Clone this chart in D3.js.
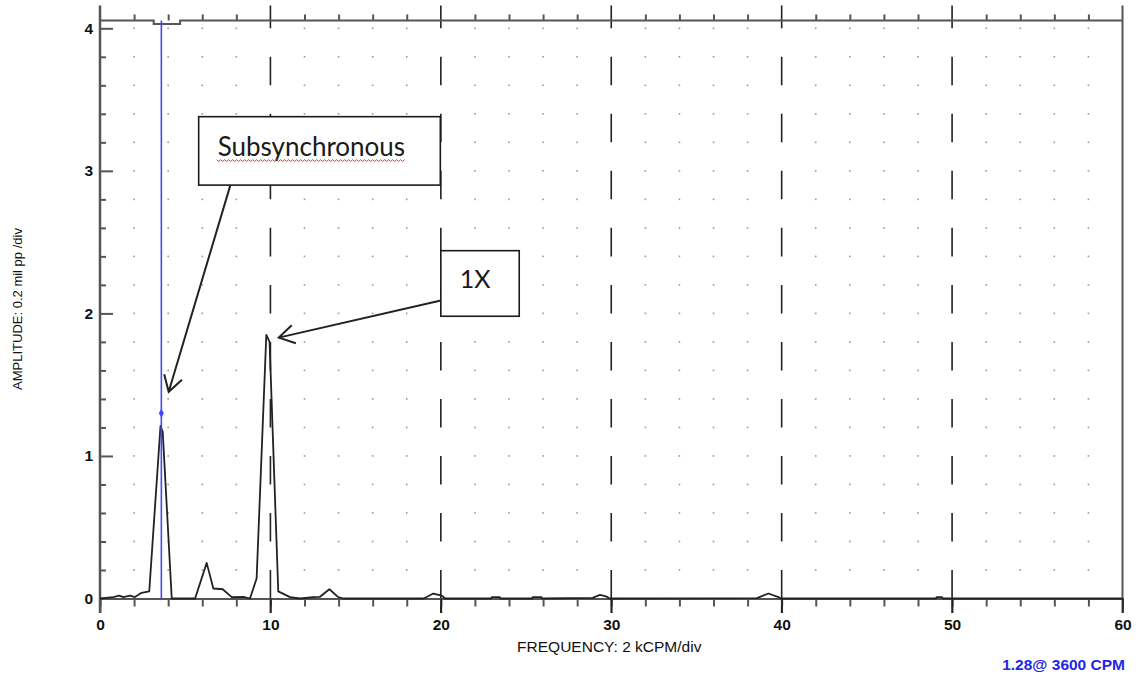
<!DOCTYPE html>
<html><head><meta charset="utf-8">
<script src="https://cdn.jsdelivr.net/npm/d3@7"></script>
<style>body{margin:0;background:#fff;} svg{display:block;}</style>
</head><body><svg id="c" width="1136" height="676"></svg>
<script>
// ---- data (frequency in kCPM, amplitude in divisions of label units) ----
const freq = [0, 0.78, 1.13, 1.37, 1.76, 2.05, 2.44, 2.89, 3.55, 3.68, 4.21, 5.58, 6.26, 6.65, 7.2, 7.73, 8.41, 8.8, 9.19, 9.76, 9.95, 10.46, 11.15, 11.74, 12.52, 12.91, 13.46, 13.98, 14.28,
  19.0, 19.56, 20.05, 20.25, 22.95, 23.0, 23.45, 23.5, 25.35, 25.4, 25.9, 25.95, 28.9, 29.34, 29.74, 29.9, 38.55, 39.22, 39.81, 39.95, 49.05, 49.1, 49.4, 49.45, 60];
const amp  = [0, 0.01, 0.02, 0.01, 0.02, 0.01, 0.04, 0.05, 1.21, 1.17, 0, 0, 0.25, 0.07, 0.065, 0.01, 0.012, 0, 0.14, 1.85, 1.80, 0.05, 0.01, 0, 0.01, 0.012, 0.065, 0.01, 0,
  0, 0.035, 0.02, 0, 0, 0.01, 0.01, 0, 0, 0.01, 0.01, 0, 0.005, 0.025, 0.013, 0, 0.003, 0.035, 0.01, 0, 0, 0.01, 0.01, 0, 0];
const xTicks = [0, 10, 20, 30, 40, 50, 60];
const xMinorTicks = d3.range(0, 61, 2);
const yTicks = [0, 1, 2, 3, 4];
const yMinorTicks = d3.range(0, 21).map(i => +(i * 0.2).toFixed(1));
const cursorFreq = 3.6, cursorAmp = 1.30;
const cursorLabel = "1.28@ 3600 CPM";
const xTitle = "FREQUENCY: 2 kCPM/div";
const yTitle = "AMPLITUDE: 0.2 mil pp /div";
const notes = [
  {text: "Subsynchronous", x0: 5.79, y0: 3.38, x1: 19.97, y1: 2.90, fromX: 7.65, fromY: 2.90, toX: 4.03, toY: 1.45, spell: true},
  {text: "1X", x0: 20.0, y0: 2.44, x1: 24.6, y1: 1.98, fromX: 20.0, fromY: 2.09, toX: 10.49, toY: 1.83, spell: false}
];

// ---- layout ----
const svg = d3.select("#c");
const x = d3.scaleLinear().domain([0, 60]).range([100, 1122.5]);
const y = d3.scaleLinear().domain([0, 4]).range([598.5, 28.3]);
const frameTop = y(4.055);
const axisCol = "#555";

// grid dots
const dots = [];
xMinorTicks.filter(v => v % 10 !== 0).forEach(fx => yMinorTicks.filter(v => v > 0).forEach(fy => dots.push([fx, fy])));
svg.append("g").selectAll("rect").data(dots).join("rect")
  .attr("x", d => x(d[0]) - 0.8).attr("y", d => y(d[1]) - 0.8)
  .attr("width", 1.6).attr("height", 1.6).attr("fill", "#999");

// dashed major verticals
const majors = xTicks.filter(v => v > 0 && v < 60);
const h = y(0) - y(0.2);
const gv = svg.append("g").attr("stroke", "#222").attr("stroke-width", 1.6);
gv.selectAll("line.d").data(majors).join("line").attr("class", "d")
  .attr("x1", d => x(d)).attr("x2", d => x(d))
  .attr("y1", y(0.4)).attr("y2", y(3.8))
  .attr("stroke-dasharray", `${h},${h}`);
gv.selectAll("line.t").data(majors).join("line").attr("class", "t")
  .attr("x1", d => x(d)).attr("x2", d => x(d))
  .attr("y1", frameTop - 15).attr("y2", y(4));
gv.selectAll("line.b").data(majors).join("line").attr("class", "b")
  .attr("x1", d => x(d)).attr("x2", d => x(d))
  .attr("y1", y(0.2)).attr("y2", y(0) + 14.5);

// top frame with cursor notch, right frame
const nA = x(cursorFreq - 0.45), nB = x(cursorFreq + 1.1);
svg.append("path")
  .attr("d", `M${x(0)},${frameTop}H${nA}V${frameTop + 3.5}H${nB}V${frameTop}H${x(60)}`)
  .attr("fill", "none").attr("stroke", axisCol).attr("stroke-width", 2);
svg.append("line").attr("x1", x(60)).attr("x2", x(60)).attr("y1", frameTop - 15).attr("y2", y(0) + 14.5)
  .attr("stroke", axisCol).attr("stroke-width", 2);
// top minor ticks
svg.append("g").attr("transform", `translate(0,${frameTop})`)
  .call(d3.axisTop(x).tickValues(xMinorTicks.filter(v => v % 10 !== 0)).tickSize(6).tickFormat(""))
  .call(g => g.select(".domain").remove())
  .call(g => g.selectAll("line").attr("stroke", axisCol).attr("stroke-width", 2));

// bottom axis
const gx = svg.append("g").attr("transform", `translate(0,${y(0)})`);
gx.call(d3.axisBottom(x).tickValues(xMinorTicks).tickSize(8).tickFormat("").tickSizeOuter(0))
  .call(g => g.select(".domain").attr("stroke", axisCol).attr("stroke-width", 2))
  .call(g => g.selectAll(".tick line").attr("stroke", axisCol).attr("stroke-width", 2));
svg.append("g").attr("transform", `translate(0,${y(0)})`)
  .call(d3.axisBottom(x).tickValues(xTicks).tickSize(14.5).tickPadding(6).tickFormat(d3.format("d")))
  .call(g => g.select(".domain").remove())
  .call(g => g.selectAll(".tick line").attr("stroke", "#222").attr("stroke-width", 1.6))
  .call(g => g.selectAll("text").attr("font-family", "'Liberation Sans', Arial, sans-serif")
    .attr("font-size", 15.5).attr("font-weight", "bold").attr("fill", "#111"));

// left axis
svg.append("line").attr("x1", x(0)).attr("x2", x(0)).attr("y1", frameTop - 15).attr("y2", y(0) + 14.5)
  .attr("stroke", axisCol).attr("stroke-width", 2.5);
svg.append("g").attr("transform", `translate(${x(0)},0)`)
  .call(d3.axisLeft(y).tickValues(yMinorTicks.filter(v => !Number.isInteger(v))).tickSize(-6).tickFormat(""))
  .call(g => g.select(".domain").remove())
  .call(g => g.selectAll(".tick line").attr("stroke", axisCol).attr("stroke-width", 2));
svg.append("g").attr("transform", `translate(${x(0)},0)`)
  .call(d3.axisLeft(y).tickValues(yTicks).tickSize(-13).tickPadding(7).tickFormat(d3.format("d")))
  .call(g => g.select(".domain").remove())
  .call(g => g.selectAll(".tick line").attr("stroke", axisCol).attr("stroke-width", 2))
  .call(g => g.selectAll("text").attr("font-family", "'Liberation Sans', Arial, sans-serif")
    .attr("font-size", 15.5).attr("font-weight", "bold").attr("fill", "#111"));

// axis titles
svg.append("text").attr("x", (x(0) + x(60)) / 2 - 2).attr("y", 651.5).attr("text-anchor", "middle")
  .attr("font-family", "'Liberation Sans', Arial, sans-serif").attr("font-size", 15.5).attr("fill", "#111")
  .text(xTitle);
svg.append("text").attr("transform", `translate(21.5,${309}) rotate(-90)`).attr("text-anchor", "middle")
  .attr("font-family", "'Liberation Sans', Arial, sans-serif").attr("font-size", 13).attr("fill", "#111")
  .text(yTitle);

// spectrum line
const pts = freq.map((f, i) => [f, amp[i]]);
svg.append("path").datum(pts)
  .attr("d", d3.line().x(d => x(d[0])).y(d => y(d[1])))
  .attr("fill", "none").attr("stroke", "#222").attr("stroke-width", 1.8).attr("stroke-linejoin", "round");

// cursor
svg.append("line").attr("x1", x(cursorFreq)).attr("x2", x(cursorFreq))
  .attr("y1", frameTop).attr("y2", y(0)).attr("stroke", "#4646ff").attr("stroke-width", 1.6);
svg.append("path").attr("d", d3.symbol(d3.symbolDiamond, 22)())
  .attr("transform", `translate(${x(cursorFreq)},${y(cursorAmp)})`).attr("fill", "#4646ff");
svg.append("text").attr("x", 1125).attr("y", 670).attr("text-anchor", "end")
  .attr("font-family", "'Liberation Sans', Arial, sans-serif").attr("font-size", 15.5).attr("font-weight", "bold")
  .attr("fill", "#2626e6").text(cursorLabel);

// annotations
const ga = svg.append("g");
notes.forEach(n => {
  const bx = x(n.x0), by = y(n.y0), bw = x(n.x1) - x(n.x0), bh = y(n.y1) - y(n.y0);
  ga.append("rect").attr("x", bx).attr("y", by).attr("width", bw).attr("height", bh)
    .attr("fill", "#fff").attr("stroke", "#1a1a1a").attr("stroke-width", 1.6);
  const t = ga.append("text").attr("x", bx + 19).attr("y", by + (n.spell ? 39 : 37))
    .attr("font-family", "Lato, 'Open Sans', sans-serif").attr("font-size", n.spell ? 26 : 25).attr("fill", "#1a1a1a")
    .text(n.text);
  if (n.spell) {
    const w = t.node().getComputedTextLength();
    const x0 = bx + 18, yy = by + 43;
    let d = `M${x0},${yy}`;
    for (let k = 0, xx = x0; xx < x0 + w; k++) { xx += 2; d += `L${xx},${yy + (k % 2 ? 0 : 1.8)}`; }
    ga.append("path").attr("d", d).attr("fill", "none").attr("stroke", "#e83030").attr("stroke-width", 1);
  }
  const sx = x(n.fromX), sy = y(n.fromY), tx = x(n.toX), ty = y(n.toY);
  const ang = Math.atan2(sy - ty, sx - tx), L = 18, a = 31 * Math.PI / 180;
  ga.append("path")
    .attr("d", `M${sx},${sy}L${tx},${ty}M${tx + L * Math.cos(ang - a)},${ty + L * Math.sin(ang - a)}L${tx},${ty}L${tx + L * Math.cos(ang + a)},${ty + L * Math.sin(ang + a)}`)
    .attr("fill", "none").attr("stroke", "#222").attr("stroke-width", 2).attr("stroke-linejoin", "miter");
});
</script>
</body></html>
